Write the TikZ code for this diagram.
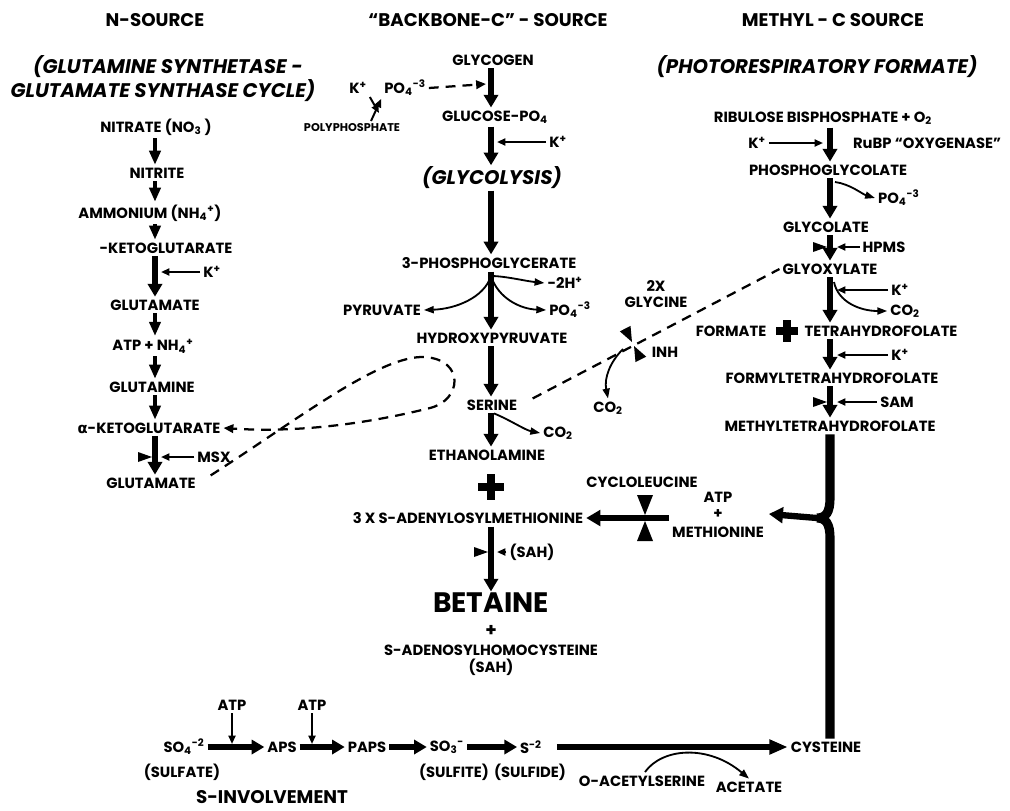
\documentclass[tikz,border=0pt]{standalone}
\usepackage{fontspec}
\setmainfont{Poppins}
\newfontfamily\greekfont{DejaVu Sans}
\usetikzlibrary{arrows.meta,calc,positioning}

\newcommand{\tickin}[1]{\fill (#1) ++(-17,-5) -- ++(0,10) -- ++(14,-5) -- cycle;}
\newcommand{\inhibmark}[3]{%
  \begin{scope}[shift={(#1)},rotate=#2,scale=#3]
    \fill (-8,-23) -- (8,-23) -- (0,-3) -- cycle;
    \fill (-8,23) -- (8,23) -- (0,3) -- cycle;
  \end{scope}}

\begin{document}
\begin{tikzpicture}[
    x=0.025cm,y=-0.025cm,
    lbl/.style     = {font=\bfseries\fontsize{10.5}{12}\selectfont,inner sep=2pt},
    tinylbl/.style = {font=\bfseries\fontsize{8}{9}\selectfont,inner sep=1pt},
    ttl/.style     = {font=\bfseries\fontsize{13}{15}\selectfont,inner sep=1pt},
    subttl/.style  = {font=\bfseries\itshape\fontsize{14}{16}\selectfont,inner sep=1pt},
    bigttl/.style  = {font=\bfseries\fontsize{20}{24}\selectfont,inner sep=1pt},
    narr/.style    = {line width=2.4pt,-{Triangle[length=10pt,width=8pt]}},
    carr/.style    = {line width=3.6pt,-{Triangle[length=9pt,width=10pt]}},
    kar/.style     = {line width=1.4pt,-{Triangle[length=6pt,width=5pt]}},
    curvarr/.style = {line width=1.3pt,-{Triangle[length=7pt,width=5pt]}},
    dashline/.style= {line width=1.6pt,dash pattern=on 7pt off 5pt},
    srow/.style    = {line width=4pt,-{Triangle[length=9pt,width=10pt]}},
    longarr/.style = {line width=4.5pt,-{Triangle[length=13pt,width=10pt]}},
    metharr/.style = {line width=4.5pt,-{Triangle[length=10pt,width=11pt]}},
    methbar/.style = {line width=6.5pt},
    plusbar/.style = {line width=5pt},
  ]
  \useasboundingbox (0,0) rectangle (1010,810);
  \coordinate (lc) at (155,0);
  \coordinate (mc) at (491,0);
  \coordinate (rc) at (830,0);

  % headings
  \node[ttl] (hn) at (155,20) {N-SOURCE};
  \node[ttl] (hb) at (488,20) {``BACKBONE-C'' - SOURCE};
  \node[ttl] (hm) at (833,20) {METHYL - C SOURCE};
  \node[subttl] (sna) at (168,67) {(GLUTAMINE SYNTHETASE -};
  \node[subttl] (snb) at (163,91) {GLUTAMATE SYNTHASE CYCLE)};
  \node[subttl] (sm) at (817,67) {(PHOTORESPIRATORY FORMATE)};

  % N source
  \node[lbl] (nitrate) at (156,127) {NITRATE (NO\textsubscript{3} )};
  \node[lbl] (nitrite) at (157,173) {NITRITE};
  \node[lbl] (ammon) at (150,213) {AMMONIUM (NH\textsubscript{4}\textsuperscript{+})};
  \node[lbl] (akga) at (166,248) {-KETOGLUTARATE};
  \node[lbl] (glua) at (155,305) {GLUTAMATE};
  \node[lbl] (atpnh) at (153,346) {ATP + NH\textsubscript{4}\textsuperscript{+}};
  \node[lbl] (gln) at (152,387) {GLUTAMINE};
  \node[lbl] (akgb) at (149,428) {{\greekfont α}-KETOGLUTARATE};
  \node[lbl] (glub) at (151,483) {GLUTAMATE};
  \node[lbl] (kn) at (212,272) {K\textsuperscript{+}};
  \node[lbl] (msx) at (214,457) {MSX};

  \foreach \a/\b in {nitrate/nitrite,nitrite/ammon,ammon/akga,glua/atpnh,atpnh/gln,gln/akgb}
    \draw[narr] (\a.south -| lc) -- (\b.north -| lc);
  \draw[carr] (akga.south -| lc) -- (glua.north -| lc);
  \draw[carr] (akgb.south -| lc) -- (glub.north -| lc);
  \draw[kar] (kn.west) -- ($(lc |- kn)+(6,0)$);
  \draw[kar] (msx.west) -- ($(lc |- msx)+(6,0)$);
  \tickin{lc |- msx}

  % backbone-C
  \node[lbl] (kp) at (358,88) {K\textsuperscript{+}};
  \node[lbl] (po4a) at (405,88) {PO\textsubscript{4}\textsuperscript{-3}};
  \node[tinylbl] (poly) at (352,128) {POLYPHOSPHATE};
  \node[lbl] (glycogen) at (493,60) {GLYCOGEN};
  \node[lbl] (g6p) at (495,117) {GLUCOSE-PO\textsubscript{4}};
  \node[lbl] (kg) at (558,142) {K\textsuperscript{+}};
  \node[subttl] (glycolysis) at (492,178) {(GLYCOLYSIS)};
  \node[lbl] (pga) at (489,263) {3-PHOSPHOGLYCERATE};
  \node[lbl] (htwo) at (565,283) {-2H\textsuperscript{+}};
  \node[lbl] (po4b) at (570,310) {PO\textsubscript{4}\textsuperscript{-3}};
  \node[lbl] (pyr) at (382,310) {PYRUVATE};
  \node[lbl] (hpyr) at (492,338) {HYDROXYPYRUVATE};
  \node[lbl] (ser) at (492,405) {SERINE};
  \node[lbl] (co2a) at (558,433) {CO\textsubscript{2}};
  \node[lbl] (etha) at (487,455) {ETHANOLAMINE};
  \node[lbl] (sam) at (468,518) {3 X S-ADENYLOSYLMETHIONINE};
  \node[lbl] (saha) at (532,552) {(SAH)};
  \node[bigttl] (betaine) at (491,603) {BETAINE};
  \node[ttl] (plusc) at (491,631) {+};
  \node[lbl] (sahc) at (491,650) {S-ADENOSYLHOMOCYSTEINE};
  \node[lbl] (sahb) at (491,667) {(SAH)};

  \coordinate (gjoin) at (486,84);
  \coordinate (vj) at (379,113);
  \coordinate (vs) at (371,121);
  \coordinate (pgb) at (491,276);
  \draw[kar] (kp.south east) -- (vj);
  \draw[kar] (vs) -- (po4a.south west);
  \draw[dashline,-{Triangle[length=7pt,width=6pt]}] (po4a.east) -- (gjoin);
  \draw[carr] (glycogen.south -| mc) -- (g6p.north -| mc);
  \draw[carr] (g6p.south -| mc) -- (glycolysis.north -| mc);
  \draw[carr] (glycolysis.south -| mc) -- (pga.north -| mc);
  \draw[carr] (pga.south -| mc) -- (hpyr.north -| mc);
  \draw[carr] (hpyr.south -| mc) -- (ser.north -| mc);
  \draw[carr] (ser.south -| mc) -- (etha.north -| mc);
  \draw[carr] (sam.south -| mc) -- (betaine.north -| mc);
  \draw[kar] (kg.west) -- ($(mc |- kg)+(6,0)$);
  \draw[kar] (saha.west) -- ($(mc |- saha)+(6,0)$);
  \tickin{mc |- saha}
  \draw[curvarr] (pgb) .. controls (505,276) and (525,281) .. (htwo.west);
  \draw[curvarr] (pgb) .. controls (498,298) and (520,309) .. (po4b.west);
  \draw[curvarr] (pgb) .. controls (484,298) and (455,309) .. (pyr.east);
  \draw[curvarr] ($(ser.south -| mc)+(3,0)$) .. controls (510,420) and (525,430) .. (co2a.west);
  \draw[plusbar] (478,487) -- (504,487) (491,474) -- (491,500);

  % glycine branch
  \node[lbl,align=center] (glycine) at (656,294) {2X\\GLYCINE};
  \coordinate (inh) at (633,344);
  \node[lbl] (inhl) at (665,352) {INH};
  \node[lbl] (co2b) at (608,408) {CO\textsubscript{2}};
  \inhibmark{inh}{27}{0.75}
  \draw[curvarr] ($(inh)+(-10,5)$) .. controls (610,362) and (604,378) .. (co2b.north);

  % methyl-C source
  \node[lbl] (ribu) at (823,118) {RIBULOSE BISPHOSPHATE + O\textsubscript{2}};
  \node[lbl] (kr) at (757,143) {K\textsuperscript{+}};
  \node[lbl,anchor=west] (rubp) at (850,143) {RuBP ``OXYGENASE''};
  \node[lbl] (pgly) at (828,170) {PHOSPHOGLYCOLATE};
  \node[lbl,anchor=west] (po4c) at (875,198) {PO\textsubscript{4}\textsuperscript{-3}};
  \node[lbl] (glyc) at (826,227) {GLYCOLATE};
  \node[lbl] (hpms) at (884,247) {HPMS};
  \node[lbl] (glyox) at (830,269) {GLYOXYLATE};
  \node[lbl] (krb) at (900,290) {K\textsuperscript{+}};
  \node[lbl] (co2c) at (905,311) {CO\textsubscript{2}};
  \node[lbl] (formate) at (731,331) {FORMATE};
  \node[lbl] (thf) at (881,331) {TETRAHYDROFOLATE};
  \node[lbl] (krc) at (900,355) {K\textsuperscript{+}};
  \node[lbl] (fthf) at (832,378) {FORMYLTETRAHYDROFOLATE};
  \node[lbl] (samr) at (897,402) {SAM};
  \node[lbl] (mthf) at (830,426) {METHYLTETRAHYDROFOLATE};

  \draw[carr] (ribu.south -| rc) -- (pgly.north -| rc);
  \draw[carr] (pgly.south -| rc) -- (glyc.north -| rc);
  \draw[carr] (glyc.south -| rc) -- (glyox.north -| rc);
  \draw[carr] (glyox.south -| rc) -- (thf.north -| rc);
  \draw[carr] (thf.south -| rc) -- (fthf.north -| rc);
  \draw[carr] (fthf.south -| rc) -- (mthf.north -| rc);
  \draw[kar] (kr.east) -- ($(rc |- kr)+(-7,0)$);
  \draw[kar] (hpms.west) -- ($(rc |- hpms)+(7,0)$);
  \tickin{rc |- hpms}
  \draw[kar] (krb.west) -- ($(rc |- krb)+(7,0)$);
  \draw[kar] (krc.west) -- ($(rc |- krc)+(7,0)$);
  \draw[kar] (samr.west) -- ($(rc |- samr)+(7,0)$);
  \tickin{rc |- samr}
  \draw[curvarr] (835,182) .. controls (850,184) and (862,194) .. (po4c.west);
  \draw[curvarr] (834,282) .. controls (838,302) and (860,311) .. (co2c.west);
  \draw[plusbar] (776,331) -- (798,331) (787,320) -- (787,342);

  % serine / glutamate links
  \draw[dashline,shorten <=10pt] (ser.east) -- (glyox.west);
  \draw[dashline,shorten <=10pt,-{Triangle[length=7pt,width=6pt]}] (glub.east)
      .. controls (300,418) and (380,355) .. (425,357)
      .. controls (465,360) and (462,400) .. (430,408)
      .. controls (370,423) and (300,433) .. (akgb.east);

  % methionine
  \node[lbl] (cyclo) at (642,482) {CYCLOLEUCINE};
  \node[lbl] (atpm) at (718,497) {ATP};
  \node[lbl] (plusm) at (718,514) {+};
  \node[lbl] (meth) at (718,532) {METHIONINE};
  \coordinate (cyc) at (645,518);
  \coordinate (cusp) at (817,518);
  \draw[metharr] (meth.west |- sam) -- (sam.east);
  \inhibmark{cyc}{0}{1}

  % sulfur
  \node[lbl] (so4) at (184,747) {SO\textsubscript{4}\textsuperscript{-2}};
  \node[lbl] (sulfate) at (182,772) {(SULFATE)};
  \node[lbl] (atpa) at (232,705) {ATP};
  \node[lbl] (aps) at (282,747) {APS};
  \node[lbl] (atpb) at (312,705) {ATP};
  \node[lbl] (paps) at (367,747) {PAPS};
  \node[lbl] (so3) at (447,747) {SO\textsubscript{3}\textsuperscript{-}};
  \node[lbl] (sulfite) at (454,772) {(SULFITE)};
  \node[lbl] (stwo) at (531,747) {S\textsuperscript{-2}};
  \node[lbl] (sulfide) at (530,772) {(SULFIDE)};
  \node[lbl] (cyst) at (826,747) {CYSTEINE};
  \node[lbl] (oacs) at (642,781) {O-ACETYLSERINE};
  \node[lbl] (acet) at (749,787) {ACETATE};
  \node[ttl] (sinv) at (272,797) {S-INVOLVEMENT};

  \foreach \a/\b in {so4/aps,aps/paps,paps/so3,so3/stwo}
    \draw[srow] (\a.east |- aps) -- (\b.west |- aps);
  \draw[kar] (atpa.south) -- ($(atpa |- aps)+(0,-3)$);
  \draw[kar] (atpb.south) -- ($(atpb |- aps)+(0,-3)$);
  \draw[longarr] ($(stwo.east |- aps)+(12,0)$) -- (cyst.west);
  \draw[curvarr] (645,772) .. controls (662,748) and (708,744) .. (acet.north);

  % methyl bar into cysteine
  \draw[methbar] (mthf.south -| rc) -- (830,498) .. controls (830,512) and (826,518) .. (cusp)
      .. controls (826,518) and (830,524) .. (830,538) -- (cyst.north -| rc);
  \draw[metharr] (cusp) -- ($(meth.east |- plusm)+(2,0)$);

\end{tikzpicture}
\end{document}
